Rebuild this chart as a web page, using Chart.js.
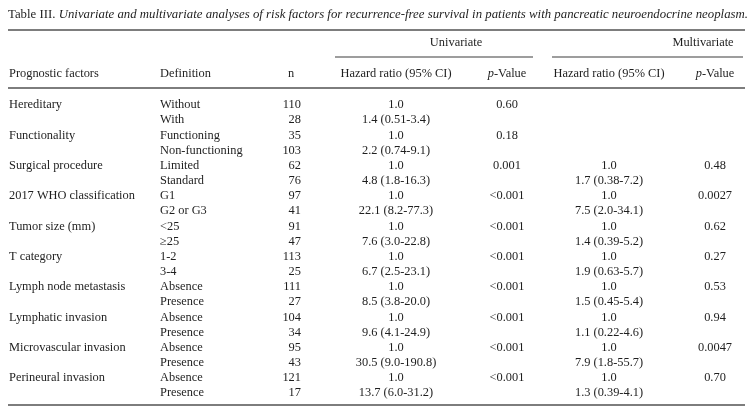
<!DOCTYPE html>
<html>
<head>
<meta charset="utf-8">
<script src="https://cdn.jsdelivr.net/npm/chart.js@4.4.1/dist/chart.umd.min.js"></script>
<style>
  html, body { margin: 0; padding: 0; background: #fff; }
  canvas { display: block; }
</style>
</head>
<body>
<canvas id="tbl" width="753" height="417"></canvas>
<script>
// table content
const title = [['Table III. ', false], ['Univariate and multivariate analyses of risk factors for recurrence-free survival in patients with pancreatic neuroendocrine neoplasm.', true]];
const factors = ['Hereditary', 'Functionality', 'Surgical procedure', '2017 WHO classification', 'Tumor size (mm)',
  'T category', 'Lymph node metastasis', 'Lymphatic invasion', 'Microvascular invasion', 'Perineural invasion'];
const definitions = ['Without', 'With', 'Functioning', 'Non-functioning', 'Limited', 'Standard', 'G1', 'G2 or G3',
  '<25', '\u226525', '1-2', '3-4', 'Absence', 'Presence', 'Absence', 'Presence', 'Absence', 'Presence', 'Absence', 'Presence'];
const nValues = [110, 28, 35, 103, 62, 76, 97, 41, 91, 47, 113, 25, 111, 27, 104, 34, 95, 43, 121, 17];
const uniHR = ['1.0', '1.4 (0.51-3.4)', '1.0', '2.2 (0.74-9.1)', '1.0', '4.8 (1.8-16.3)', '1.0', '22.1 (8.2-77.3)',
  '1.0', '7.6 (3.0-22.8)', '1.0', '6.7 (2.5-23.1)', '1.0', '8.5 (3.8-20.0)', '1.0', '9.6 (4.1-24.9)',
  '1.0', '30.5 (9.0-190.8)', '1.0', '13.7 (6.0-31.2)'];
const uniP = ['0.60', '0.18', '0.001', '<0.001', '<0.001', '<0.001', '<0.001', '<0.001', '<0.001', '<0.001'];
const multiHR = [null, null, null, null, '1.0', '1.7 (0.38-7.2)', '1.0', '7.5 (2.0-34.1)', '1.0', '1.4 (0.39-5.2)',
  '1.0', '1.9 (0.63-5.7)', '1.0', '1.5 (0.45-5.4)', '1.0', '1.1 (0.22-4.6)', '1.0', '7.9 (1.8-55.7)', '1.0', '1.3 (0.39-4.1)'];
const multiP = [null, null, '0.48', '0.0027', '0.62', '0.27', '0.53', '0.94', '0.0047', '0.70'];
const pLabel = [['p', true], ['-Value', false]];
const headers = ['Prognostic factors', 'Definition', 'n', 'Hazard ratio (95% CI)', pLabel, 'Hazard ratio (95% CI)', pLabel];
const spanners = ['Univariate', 'Multivariate'];

// layout (x in pixels, y in row units)
const colX = [9, 160, 301, 396, 507, 609, 715];
const colAlign = ['left', 'left', 'right', 'center', 'center', 'center', 'center'];
const headerAlign = ['left', 'left', 'center', 'center', 'center', 'center', 'center'];
const headerX = [9, 160, 291, 396, 507, 609, 715];
const spannerX = [456, 703];
const rowTitle = -6.0, rowSpanner = -4.1, rowHeader = -2.05;
const FONT = '"Liberation Serif", "Times New Roman", serif';
const INK = '#1e1e1e';
const RULE = '#7d7d7d';

function textSet(texts, xs, ys, align, extra) {
  return Object.assign({
    data: xs.map((x, i) => ({ x: x, y: ys[i] })),
    texts: texts, align: align,
    pointRadius: 0, pointHoverRadius: 0, showLine: false
  }, extra || {});
}
function column(values, col, step) {
  const xs = [], ys = [], ts = [];
  values.forEach((v, i) => {
    if (v === null) return;
    xs.push(colX[col]); ys.push(i * step); ts.push(String(v));
  });
  return textSet(ts, xs, ys, colAlign[col]);
}
function rule(x1, x2, y, w) {
  return { data: [{ x: x1, y: y }, { x: x2, y: y }], showLine: true, borderColor: RULE,
    borderWidth: w, pointRadius: 0, pointHoverRadius: 0 };
}

function segs(t) { return Array.isArray(t) ? t : [[t, false]]; }
function drawRich(ctx, t, x, y, align, size, fit) {
  const parts = segs(t);
  const widths = parts.map(p => { ctx.font = (p[1] ? 'italic ' : '') + size + 'px ' + FONT; return ctx.measureText(p[0]).width; });
  let total = widths.reduce((a, b) => a + b, 0);
  let sx = 1;
  if (fit) { sx = fit / total; }
  total *= sx;
  let start = align === 'left' ? x : align === 'right' ? x - total : x - total / 2;
  ctx.save();
  ctx.translate(start, y);
  ctx.scale(sx, 1);
  let cx = 0;
  parts.forEach((p, i) => {
    ctx.font = (p[1] ? 'italic ' : '') + size + 'px ' + FONT;
    ctx.fillText(p[0], cx, 0);
    cx += widths[i];
  });
  ctx.restore();
}

const tableText = {
  id: 'tableText',
  afterDatasetsDraw(chart) {
    const ctx = chart.ctx;
    chart.data.datasets.forEach((ds, i) => {
      if (!ds.texts) return;
      const meta = chart.getDatasetMeta(i);
      ctx.save();
      ctx.fillStyle = INK;
      ctx.textBaseline = 'middle';
      meta.data.forEach((pt, j) => {
        drawRich(ctx, ds.texts[j], pt.x, pt.y, ds.align, ds.size || 12.4, ds.fit);
      });
      ctx.restore();
    });
  }
};

const datasets = [
  textSet([title], [8], [rowTitle], 'left', { size: 13, fit: 740 }),
  textSet(spanners, spannerX, [rowSpanner, rowSpanner], 'center'),
  rule(8, 745, -4.95, 2),
  rule(335, 533, -3.17, 1.5),
  rule(552, 743, -3.17, 1.5),
  rule(8, 745, -1.12, 2),
  rule(8, 745, 19.79, 2),
  column(factors, 0, 2),
  column(definitions, 1, 1),
  column(nValues, 2, 1),
  column(uniHR, 3, 1),
  column(uniP, 4, 2),
  column(multiHR, 5, 1),
  column(multiP, 6, 2)
];
headers.forEach((h, i) => {
  datasets.push(textSet([h], [headerX[i]], [rowHeader], headerAlign[i]));
});

new Chart(document.getElementById('tbl'), {
  type: 'scatter',
  data: { datasets: datasets },
  options: {
    responsive: false,
    animation: false,
    events: [],
    layout: { padding: 0 },
    plugins: { legend: { display: false }, tooltip: { enabled: false } },
    scales: {
      x: { type: 'linear', min: 0, max: 753, display: false },
      y: { type: 'linear', min: -6.93, max: 20.58, reverse: true, display: false }
    }
  },
  plugins: [tableText]
});
</script>
</body>
</html>
